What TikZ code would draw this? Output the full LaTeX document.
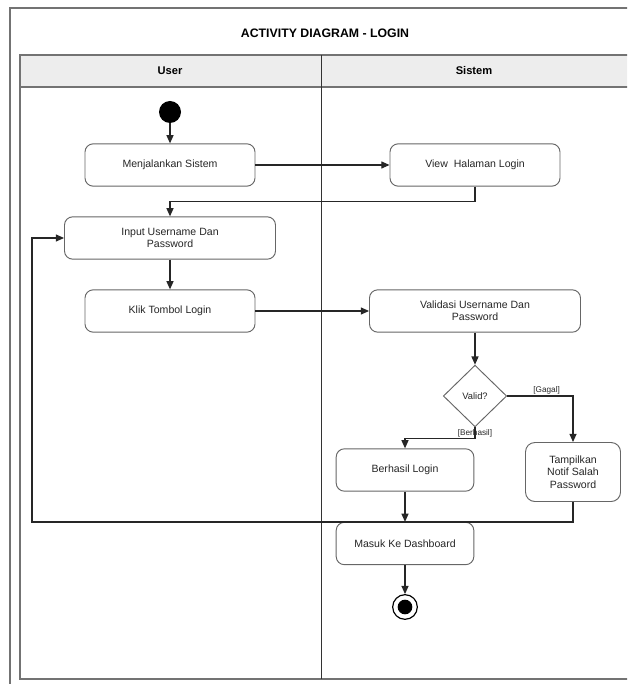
\documentclass[tikz,border=0pt]{standalone}
\usepackage{fontspec}
\setmainfont{Liberation Sans}
\usepackage{tikz}
\usetikzlibrary{shapes.geometric, arrows.meta, positioning}

\begin{document}
\begin{tikzpicture}[
    x=0.03cm, y=-0.03cm,
    every node/.style={font=\fontsize{9}{10.5}\selectfont, text=black!85},
    box/.style={
        draw=black!60, rounded corners=7pt, line width=0.8pt,
        align=center, minimum width=#1, minimum height=1.27cm, inner sep=2pt, fill=white
    },
    decision/.style={
        diamond, draw=black!60, line width=0.8pt, fill=white,
        minimum width=1.9cm, minimum height=1.85cm, inner sep=0pt,
        font=\fontsize{8}{9}\selectfont
    },
    startnode/.style={circle, fill=black, minimum size=0.66cm, inner sep=0pt},
    endnode/.style={
        circle, draw=black, line width=1pt, fill=white, minimum size=0.74cm, inner sep=0pt,
        path picture={\fill[black] (path picture bounding box.center) circle (0.22cm);}
    },
    guard/.style={font=\fontsize{7}{8}\selectfont, inner sep=1pt},
    lanehead/.style={font=\bfseries\fontsize{9.5}{11}\selectfont, text=black},
    frameline/.style={draw=black!55, line width=1pt},
    arrow/.style={
        -{Triangle[length=7pt, width=6pt]}, line width=1pt, draw=black!85
    }
]

\useasboundingbox (0,0) rectangle (627,684);
\clip (0,0) rectangle (627,684);

% Frame and swimlanes
\draw[frameline] (10,8) rectangle (900,900);
\draw[frameline, fill=black!7] (20,55) rectangle (900,87);
\draw[frameline] (20,87) -- (20,679) -- (900,679);
\draw[line width=0.8pt, black!80] (321,55) -- (321,679);

\node[font=\bfseries\fontsize{10.5}{12}\selectfont, text=black] (title) at (325,33) {ACTIVITY DIAGRAM - LOGIN};
\node[lanehead] (user) at (170,71) {User};
\node[lanehead] (sistem) at (474,71) {Sistem};

% User lane
\node[startnode] (start) at (170,112) {};
\node[box=5.1cm] (jalankan) at (170,165) {Menjalankan Sistem};
\node[box=6.33cm] (input) at (170,238) {Input Username Dan\\Password};
\node[box=5.1cm] (klik) at (170,311) {Klik Tombol Login};

% Sistem lane
\node[box=5.1cm] (halaman) at (475,165) {View\ \ Halaman Login};
\node[box=6.33cm] (validasi) at (475,311) {Validasi Username Dan\\Password};
\node[decision] (valid) at (475,396) {Valid?};
\node[box=4.13cm] (berhasil) at (405,470) {Berhasil Login};
\node[box=2.85cm, minimum height=1.77cm, rounded corners=8pt] (notif) at (573,472) {Tampilkan\\Notif Salah\\Password};
\node[box=4.13cm] (dashboard) at (405,543.5) {Masuk Ke Dashboard};
\node[endnode] (finish) at (405,607) {};
\coordinate (loop) at (32,522);

% Flow
\draw[arrow] (start) -- (jalankan);
\draw[arrow] (jalankan) -- (halaman);
\draw[arrow] (halaman.south) -- ++(0,15) -| (input.north);
\draw[arrow] (input) -- (klik);
\draw[arrow] (klik) -- (validasi);
\draw[arrow] (validasi) -- (valid);
\draw[arrow] (valid.east) -| node[guard, above, pos=0.3] {[Gagal]} (notif.north);
\draw[arrow] (valid.south) -- ++(0,11) -| (berhasil.north);
\node[guard, below=1pt of valid.south] (okguard) {[Berhasil]};
\draw[arrow] (berhasil) -- (dashboard);
\draw[arrow] (notif.south) |- (loop) |- (input.west);
\draw[arrow] (dashboard) -- (finish);

\end{tikzpicture}
\end{document}
